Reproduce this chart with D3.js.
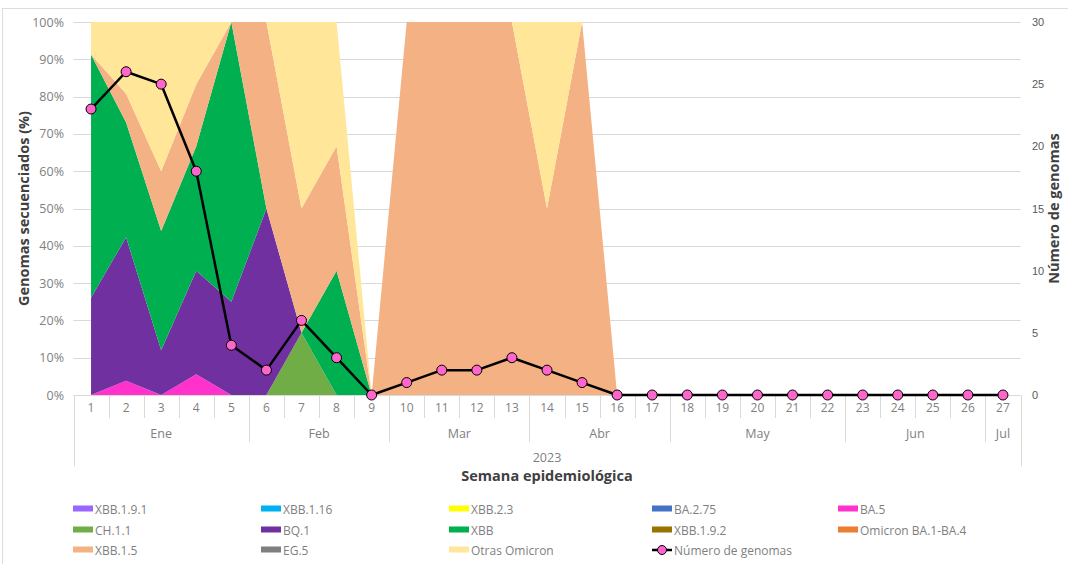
<!DOCTYPE html>
<html>
<head>
<meta charset="utf-8">
<script src="https://cdn.jsdelivr.net/npm/d3@7"></script>
<style>
  html, body { margin: 0; padding: 0; background: #fff; }
  svg { display: block; font-family: "Open Sans", "Noto Sans", sans-serif; }
</style>
</head>
<body>
<svg id="chart" width="1068" height="564"></svg>
<script>
// ---- DATA ----
const weeks = ["1","2","3","4","5","6","7","8","9","10","11","12","13","14","15","16","17","18","19","20","21","22","23","24","25","26","27"];
const months = [
  { label: "Ene", from: "1", to: "5" },
  { label: "Feb", from: "6", to: "9" },
  { label: "Mar", from: "10", to: "13" },
  { label: "Abr", from: "14", to: "17" },
  { label: "May", from: "18", to: "22" },
  { label: "Jun", from: "23", to: "26" },
  { label: "Jul", from: "27", to: "27" }
];
const yearLabel = "2023";
const pctTicks = [0, 0.1, 0.2, 0.3, 0.4, 0.5, 0.6, 0.7, 0.8, 0.9, 1];
const countTicks = [0, 5, 10, 15, 20, 25, 30];

// sequenced genomes per variant (counts per week)
const XBB_1_9_1 = [0,0,0,0,0,0,0,0,0,0,0,0,0,0,0,0,0,0,0,0,0,0,0,0,0,0,0];
const XBB_1_16  = [0,0,0,0,0,0,0,0,0,0,0,0,0,0,0,0,0,0,0,0,0,0,0,0,0,0,0];
const XBB_2_3   = [0,0,0,0,0,0,0,0,0,0,0,0,0,0,0,0,0,0,0,0,0,0,0,0,0,0,0];
const BA_2_75   = [0,0,0,0,0,0,0,0,0,0,0,0,0,0,0,0,0,0,0,0,0,0,0,0,0,0,0];
const BA_5      = [0,1,0,1,0,0,0,0,0,0,0,0,0,0,0,0,0,0,0,0,0,0,0,0,0,0,0];
const CH_1_1    = [0,0,0,0,0,0,1,0,0,0,0,0,0,0,0,0,0,0,0,0,0,0,0,0,0,0,0];
const BQ_1      = [6,10,3,5,1,1,0,0,0,0,0,0,0,0,0,0,0,0,0,0,0,0,0,0,0,0,0];
const XBB       = [15,8,8,6,3,0,0,1,0,0,0,0,0,0,0,0,0,0,0,0,0,0,0,0,0,0,0];
const XBB_1_9_2 = [0,0,0,0,0,0,0,0,0,0,0,0,0,0,0,0,0,0,0,0,0,0,0,0,0,0,0];
const BA_1_4    = [0,0,0,0,0,0,0,0,0,0,0,0,0,0,0,0,0,0,0,0,0,0,0,0,0,0,0];
const XBB_1_5   = [0,2,4,3,0,1,2,1,0,1,2,2,3,1,1,0,0,0,0,0,0,0,0,0,0,0,0];
const EG_5      = [0,0,0,0,0,0,0,0,0,0,0,0,0,0,0,0,0,0,0,0,0,0,0,0,0,0,0];
const OTRAS     = [2,5,10,3,0,0,3,1,0,0,0,0,0,1,0,0,0,0,0,0,0,0,0,0,0,0,0];
// total genomes per week
const genomas   = [23,26,25,18,4,2,6,3,0,1,2,2,3,2,1,0,0,0,0,0,0,0,0,0,0,0,0];

const seriesNames  = ["XBB.1.9.1","XBB.1.16","XBB.2.3","BA.2.75","BA.5","CH.1.1","BQ.1","XBB","XBB.1.9.2","Omicron BA.1-BA.4","XBB.1.5","EG.5","Otras Omicron"];
const seriesValues = [XBB_1_9_1, XBB_1_16, XBB_2_3, BA_2_75, BA_5, CH_1_1, BQ_1, XBB, XBB_1_9_2, BA_1_4, XBB_1_5, EG_5, OTRAS];
const seriesColors = ["#9966ff","#00b0f0","#ffff00","#4472c4","#ff33cc","#70ad47","#7030a0","#00b050","#997300","#ed7d31","#f4b183","#7f7f7f","#ffe699"];
const lineName = "Número de genomas";

// ---- CHART ----
const svg = d3.select("#chart");
const W = 1068, H = 564;
const pLeft = 73.5, pRight = 1020.5, pTop = 22, pBottom = 395;

// outer frame
svg.append("rect").attr("x", 2.5).attr("y", 8.5).attr("width", W + 10).attr("height", H + 10)
  .attr("fill", "#fff").attr("stroke", "#e3dcd6").attr("stroke-width", 1);

const x = d3.scaleBand().domain(weeks).range([pLeft, pRight]).padding(0);
const cx = w => x(w) + x.bandwidth() / 2;
const y = d3.scaleLinear().domain([0, 1]).range([pBottom, pTop]);
const y2 = d3.scaleLinear().domain([0, 30]).range([pBottom, pTop]);

// gridlines
svg.append("g").selectAll("line").data(pctTicks.filter(d => d > 0)).join("line")
  .attr("x1", pLeft).attr("x2", pRight)
  .attr("y1", d => Math.round(y(d)) + 0.5).attr("y2", d => Math.round(y(d)) + 0.5)
  .attr("stroke", "#d9d9d9").attr("stroke-width", 1);

// stacked 100% area
const rows = weeks.map((w, i) => {
  const r = { week: w };
  seriesNames.forEach((n, k) => r[n] = seriesValues[k][i]);
  return r;
});
const stack = d3.stack().keys(seriesNames).offset(d3.stackOffsetExpand);
const stacked = stack(rows);
const area = d3.area()
  .x(d => cx(d.data.week))
  .y0(d => y(d[0]))
  .y1(d => y(d[1]));
svg.append("g").selectAll("path").data(stacked).join("path")
  .attr("d", area)
  .attr("fill", (d, i) => seriesColors[i]);

// x axis line
svg.append("line").attr("x1", pLeft).attr("x2", pRight).attr("y1", pBottom + 0.5).attr("y2", pBottom + 0.5)
  .attr("stroke", "#d9d9d9");

// week separators
const axisG = svg.append("g");
const bw = x.bandwidth();
weeks.forEach((w, i) => {
  if (i > 0) {
    axisG.append("line").attr("x1", Math.round(x(w)) + 0.5).attr("x2", Math.round(x(w)) + 0.5)
      .attr("y1", pBottom).attr("y2", 418).attr("stroke", "#d9d9d9");
  }
});
// month separators
months.forEach((m, i) => {
  if (i > 0) {
    const xs = Math.round(x(m.from)) + 0.5;
    axisG.append("line").attr("x1", xs).attr("x2", xs).attr("y1", pBottom).attr("y2", 442).attr("stroke", "#d9d9d9");
  }
});
// outer edges
[pLeft, pRight].forEach(xx => {
  axisG.append("line").attr("x1", Math.round(xx) + 0.5).attr("x2", Math.round(xx) + 0.5)
    .attr("y1", pBottom).attr("y2", 466).attr("stroke", "#d9d9d9");
});

// week labels
axisG.selectAll("text.wk").data(weeks).join("text").attr("class", "wk")
  .attr("x", d => cx(d)).attr("y", 412).attr("text-anchor", "middle")
  .attr("font-size", 12).attr("fill", "#7f7f7f").text(d => d);
// month labels
axisG.selectAll("text.mo").data(months).join("text").attr("class", "mo")
  .attr("x", d => (x(d.from) + x(d.to) + bw) / 2).attr("y", 438).attr("text-anchor", "middle")
  .attr("font-size", 12.5).attr("fill", "#7f7f7f").text(d => d.label);
// year
axisG.append("text").attr("x", (pLeft + pRight) / 2).attr("y", 462).attr("text-anchor", "middle")
  .attr("font-size", 12.5).attr("fill", "#7f7f7f").text(yearLabel);
// x title
svg.append("text").attr("x", (pLeft + pRight) / 2).attr("y", 481).attr("text-anchor", "middle")
  .attr("font-size", 14.5).attr("font-weight", "bold").attr("fill", "#404040").text("Semana epidemiológica");

// left axis labels
svg.append("g").selectAll("text").data(pctTicks).join("text")
  .attr("x", 64).attr("y", d => y(d) + 4.5).attr("text-anchor", "end")
  .attr("font-size", 12.5).attr("fill", "#7f7f7f").text(d => d3.format(".0%")(d));
svg.append("text").attr("transform", `translate(29,${(pTop + pBottom) / 2}) rotate(-90)`)
  .attr("text-anchor", "middle").attr("font-size", 14.5).attr("font-weight", "bold").attr("fill", "#404040")
  .text("Genomas secuenciados (%)");

// right axis labels
svg.append("g").selectAll("text").data(countTicks).join("text")
  .attr("x", 1032).attr("y", d => y2(d) + 4).attr("text-anchor", "start")
  .attr("font-size", 11).attr("fill", "#595959").attr("font-family", "Liberation Sans, sans-serif").text(d => d);
svg.append("text").attr("transform", `translate(1059,${(pTop + pBottom) / 2}) rotate(-90)`)
  .attr("text-anchor", "middle").attr("font-size", 14.5).attr("font-weight", "bold").attr("fill", "#404040")
  .text("Número de genomas");

// genome count line
const line = d3.line().x((d, i) => cx(weeks[i])).y(d => y2(d));
svg.append("path").datum(genomas).attr("d", line)
  .attr("fill", "none").attr("stroke", "#000").attr("stroke-width", 2.5).attr("stroke-linejoin", "round");
svg.append("g").selectAll("circle").data(genomas).join("circle")
  .attr("cx", (d, i) => cx(weeks[i])).attr("cy", d => y2(d)).attr("r", 5)
  .attr("fill", "#ff66cc").attr("stroke", "#000").attr("stroke-width", 1);

// legend
const legendItems = seriesNames.map((n, i) => ({ name: n, color: seriesColors[i], type: "area" }));
legendItems.push({ name: lineName, type: "line" });
const colX = [73, 261, 449, 652, 838];
const rowY = [509, 530, 550];
const lg = svg.append("g");
legendItems.forEach((it, i) => {
  const c = i % 5, r = Math.floor(i / 5);
  const gx = colX[c], gy = rowY[r];
  if (it.type === "area") {
    lg.append("rect").attr("x", gx).attr("y", gy - 3.5).attr("width", 20).attr("height", 6).attr("fill", it.color);
  } else {
    lg.append("line").attr("x1", gx).attr("x2", gx + 20).attr("y1", gy).attr("y2", gy)
      .attr("stroke", "#000").attr("stroke-width", 2.5);
    lg.append("circle").attr("cx", gx + 10).attr("cy", gy).attr("r", 4.5)
      .attr("fill", "#ff66cc").attr("stroke", "#000").attr("stroke-width", 1);
  }
  lg.append("text").attr("x", gx + 22).attr("y", gy + 4.5).attr("font-size", 12).attr("fill", "#7f7f7f").text(it.name);
});
</script>
</body>
</html>
